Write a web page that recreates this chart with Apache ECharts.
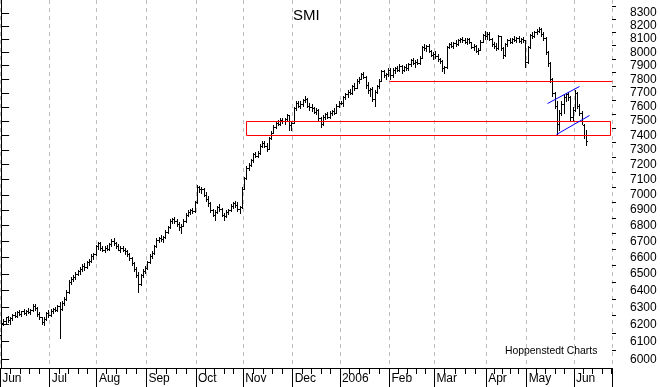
<!DOCTYPE html>
<html><head><meta charset="utf-8">
<script src="https://cdn.jsdelivr.net/npm/echarts@6/dist/echarts.min.js"></script>
<style>html,body{margin:0;padding:0;background:#fff}#c{width:660px;height:387px}</style>
</head><body><div id="c"></div>
<script>
// ---------------- data ----------------
const holidays = ['2005-08-01','2005-12-26','2006-04-14','2006-04-17','2006-05-01','2006-05-25','2006-06-05'];
const firstDay = '2005-06-01', lastDay = '2006-06-26', calendarEnd = '2006-06-30';
const monthTickLabels = ['Jun','Jul','Aug','Sep','Oct','Nov','Dec','2006','Feb','Mar','Apr','May','Jun'];
const yTickValues = [6000,6100,6200,6300,6400,6500,6600,6700,6800,6900,7000,7100,7200,7300,7400,7500,7600,7700,7800,7900,8000,8100,8200,8300];
const yMinorValues = [6050,6150,6250,6350,6450,6550,6650,6750,6850,6950,7050,7150,7250,7350,7450,7550,7650,7750,7850,7950,8050,8150,8250,8350];
const yRange = [5951, 8402];
// OHLC per trading day [open, high, low, close]
const jun05 = [[6140,6215,6130,6205],[6205,6230,6195,6220],[6220,6245,6205,6240],[6240,6250,6215,6225],[6225,6245,6200,6235],[6235,6260,6225,6255],[6255,6270,6240,6250],[6250,6275,6245,6270],[6270,6285,6255,6260],[6260,6280,6250,6275],[6275,6290,6260,6265],[6265,6285,6255,6280],[6280,6295,6265,6270],[6270,6290,6260,6285],[6285,6320,6280,6310],[6310,6320,6285,6295],[6295,6300,6250,6260],[6260,6270,6230,6240],[6240,6245,6200,6215],[6215,6240,6195,6230],[6230,6270,6225,6265],[6265,6285,6245,6255]];
const jul05 = [[6255,6290,6250,6280],[6280,6295,6265,6290],[6290,6300,6275,6285],[6285,6315,6280,6305],[6305,6330,6122,6290],[6290,6335,6285,6325],[6325,6360,6315,6350],[6350,6400,6345,6390],[6390,6460,6385,6450],[6450,6480,6440,6470],[6470,6490,6455,6480],[6480,6510,6470,6500],[6500,6525,6490,6515],[6515,6540,6500,6530],[6530,6560,6520,6550],[6550,6565,6525,6540],[6540,6580,6535,6570],[6570,6590,6555,6580],[6580,6620,6575,6610],[6610,6630,6590,6620],[6620,6680,6615,6670]];
const aug05 = [[6670,6700,6655,6690],[6690,6695,6650,6660],[6660,6675,6640,6650],[6650,6670,6635,6660],[6660,6680,6645,6655],[6655,6690,6650,6685],[6685,6715,6675,6705],[6705,6720,6680,6690],[6690,6700,6660,6670],[6670,6685,6645,6650],[6650,6670,6635,6660],[6660,6675,6640,6645],[6645,6660,6625,6640],[6640,6650,6610,6620],[6620,6630,6585,6595],[6595,6605,6555,6565],[6565,6575,6520,6530],[6530,6540,6480,6495],[6495,6510,6390,6440],[6440,6500,6430,6490],[6490,6530,6480,6520],[6520,6545,6505,6535]];
const sep05 = [[6535,6580,6530,6570],[6570,6620,6565,6610],[6610,6640,6600,6630],[6630,6680,6625,6670],[6670,6720,6665,6710],[6710,6730,6695,6720],[6720,6740,6705,6715],[6715,6735,6700,6730],[6730,6770,6725,6760],[6760,6800,6755,6790],[6790,6840,6785,6830],[6830,6850,6815,6840],[6840,6855,6820,6830],[6830,6840,6800,6810],[6810,6825,6775,6790],[6790,6810,6755,6800],[6800,6840,6795,6830],[6830,6880,6825,6870],[6870,6900,6860,6890],[6890,6910,6875,6900],[6900,6915,6880,6895],[6895,6960,6890,6950]];
const oct05 = [[6950,7065,6945,7050],[7050,7060,7020,7035],[7035,7050,7010,7040],[7040,7045,6990,7000],[7000,7015,6960,6975],[6975,6990,6930,6945],[6945,6955,6890,6900],[6900,6910,6860,6870],[6870,6900,6835,6890],[6890,6930,6880,6920],[6920,6940,6895,6905],[6905,6915,6860,6870],[6870,6880,6835,6860],[6860,6900,6855,6890],[6890,6910,6875,6900],[6900,6940,6895,6930],[6930,6955,6915,6945],[6945,6960,6920,6935],[6935,6950,6895,6910],[6910,6930,6880,6920],[6920,7050,6915,7040]];
const nov05 = [[7040,7120,7035,7110],[7110,7190,7105,7180],[7180,7215,7165,7200],[7200,7240,7190,7230],[7230,7280,7220,7270],[7270,7285,7250,7260],[7260,7290,7250,7280],[7280,7340,7275,7330],[7330,7360,7320,7350],[7350,7365,7320,7330],[7330,7345,7290,7310],[7310,7390,7305,7380],[7380,7430,7375,7420],[7420,7470,7415,7460],[7460,7500,7450,7490],[7490,7510,7470,7480],[7480,7520,7475,7510],[7510,7525,7490,7500],[7500,7520,7480,7515],[7515,7550,7505,7540],[7540,7545,7440,7470],[7470,7500,7435,7490]];
const dec05 = [[7490,7600,7485,7590],[7590,7640,7580,7630],[7630,7645,7600,7610],[7610,7640,7595,7625],[7625,7660,7610,7650],[7650,7680,7635,7660],[7660,7665,7600,7610],[7610,7630,7580,7600],[7600,7620,7570,7590],[7590,7600,7555,7565],[7565,7590,7550,7580],[7580,7585,7510,7520],[7520,7530,7460,7480],[7480,7540,7475,7530],[7530,7560,7515,7550],[7550,7565,7520,7530],[7530,7570,7520,7560],[7560,7580,7540,7570],[7570,7590,7550,7560],[7560,7620,7555,7610],[7610,7640,7600,7630]];
const jan06 = [[7630,7640,7620,7630],[7630,7680,7610,7670],[7670,7700,7655,7690],[7690,7720,7675,7710],[7710,7730,7690,7700],[7700,7760,7695,7750],[7750,7770,7725,7740],[7740,7800,7735,7790],[7790,7815,7770,7805],[7805,7850,7800,7840],[7840,7855,7810,7820],[7820,7825,7740,7760],[7760,7780,7700,7720],[7720,7740,7680,7730],[7730,7745,7640,7660],[7660,7720,7610,7710],[7710,7760,7700,7750],[7750,7800,7740,7790],[7790,7870,7785,7860],[7860,7870,7820,7830],[7830,7850,7800,7840],[7840,7880,7825,7870]];
const feb06 = [[7870,7880,7800,7830],[7830,7880,7820,7870],[7870,7890,7850,7880],[7880,7900,7860,7870],[7870,7910,7860,7900],[7900,7905,7850,7870],[7870,7900,7860,7890],[7890,7910,7870,7880],[7880,7920,7870,7910],[7910,7950,7900,7940],[7940,7960,7910,7920],[7920,7940,7890,7930],[7930,7950,7910,7920],[7920,7970,7915,7960],[7960,8050,7955,8040],[8040,8060,8020,8030],[8030,8055,8010,8050],[8050,8060,8000,8010],[8010,8020,7970,7980],[7980,8000,7950,7990]];
const mar06 = [[7990,8010,7960,7970],[7970,7990,7935,7950],[7950,7960,7920,7935],[7935,7945,7860,7880],[7880,7900,7850,7890],[7890,8050,7885,8040],[8040,8070,8030,8060],[8060,8080,8040,8050],[8050,8075,8035,8070],[8070,8090,8050,8060],[8060,8100,8055,8090],[8090,8110,8075,8100],[8100,8115,8080,8090],[8090,8110,8070,8080],[8080,8105,8065,8100],[8100,8110,8070,8075],[8075,8080,8030,8040],[8040,8060,8020,8050],[8050,8055,8000,8010],[8010,8030,7985,8020],[8020,8090,8015,8080],[8080,8140,8075,8130],[8130,8160,8100,8120]];
const apr06 = [[8120,8150,8100,8140],[8140,8155,8090,8100],[8100,8110,8050,8060],[8060,8080,8030,8050],[8050,8070,8020,8030],[8030,8130,8025,8120],[8120,8125,8020,8030],[8030,8040,7960,7980],[7980,8070,7975,8060],[8060,8100,8050,8090],[8090,8110,8070,8080],[8080,8110,8070,8100],[8100,8120,8085,8095],[8095,8115,8080,8110],[8110,8120,8075,8085],[8085,8110,8070,8100],[8100,8115,8075,8090],[8090,8095,7890,7930]];
const may06 = [[7930,8050,7920,8040],[8040,8140,8035,8130],[8130,8150,8110,8120],[8120,8160,8115,8150],[8150,8175,8140,8160],[8160,8190,8150,8180],[8180,8185,8120,8140],[8140,8150,8090,8110],[8110,8115,7990,8000],[8000,8010,7900,7920],[7920,7925,7780,7800],[7800,7810,7680,7700],[7700,7710,7590,7610],[7610,7640,7410,7480],[7480,7580,7440,7560],[7560,7640,7540,7620],[7620,7690,7560,7670],[7670,7700,7640,7690],[7690,7710,7650,7670],[7670,7680,7500,7530],[7530,7600,7510,7580]];
const jun06 = [[7580,7725,7570,7700],[7700,7710,7590,7610],[7610,7620,7540,7560],[7560,7570,7480,7500],[7470,7480,7380,7400],[7400,7440,7335,7360]];
// annotations: [position in trading-day units, index value]
const supportBox = [[108.8,7500],[270.8,7500],[270.8,7400],[108.8,7400],[108.8,7500]];
const resistanceLine = [[172.5,7785],[271.5,7785]];
const channelUpper = [[242.7,7627],[257.0,7751]];
const channelLower = [[246.6,7411],[261.4,7544]];

// ---------------- build ----------------
function tradingDays(from, to) {
  const out = [];
  const d = new Date(from + 'T00:00:00Z'), end = new Date(to + 'T00:00:00Z');
  while (d <= end) {
    const wd = d.getUTCDay(), s = d.toISOString().slice(0, 10);
    if (wd !== 0 && wd !== 6 && holidays.indexOf(s) < 0) out.push(s);
    d.setUTCDate(d.getUTCDate() + 1);
  }
  return out;
}
const dates = tradingDays(firstDay, lastDay);
const calDays = tradingDays(firstDay, calendarEnd);
const monthStart = {};
const starts = [];
calDays.forEach((s, i) => {
  if (i === 0 || s.slice(0, 7) !== calDays[i - 1].slice(0, 7)) { starts.push(i); }
});
starts.forEach((s, m) => { if (s < dates.length) monthStart[s] = monthTickLabels[m]; });
const isMonthStart = (i) => monthStart[i] !== undefined;
// minor ticks: each month split in five equal parts
const minorTicks = [];
starts.forEach((s, m) => {
  const e = m + 1 < starts.length ? starts[m + 1] : calDays.length;
  for (let q = 1; q < 5; q++) minorTicks.push(s - 0.5 + (e - s) * q / 5);
});
const bars = [].concat(jun05, jul05, aug05, sep05, oct05, nov05, dec05, jan06, feb06, mar06, apr06, may06, jun06);
const ohlcData = bars.map((b, i) => [i, Math.log(b[0]), Math.log(b[1]), Math.log(b[2]), Math.log(b[3])]);
const toLog = (arr) => arr.map(p => [p[0], Math.log(p[1])]);
const FONT = 'Liberation Sans, Arial, sans-serif';

const chart = echarts.init(document.getElementById('c'), null, {renderer: 'canvas'});
const lnMin = Math.log(yRange[0]), lnMax = Math.log(yRange[1]);
// annotation polyline drawn through the axes' scales, snapped to the pixel grid
const annot = (pts, color) => {
  const logPts = toLog(pts);
  return {
    type: 'custom', xAxisIndex: 1, yAxisIndex: 0, data: logPts, silent: true, z: 5,
    encode: {x: 0, y: 1},
    renderItem: function (params, api) {
      if (params.dataIndex !== 0) return null;
      const points = logPts.map(p => { const q = api.coord(p); return [Math.round(q[0]) + 0.5, Math.round(q[1]) + 0.5]; });
      return {type: 'polyline', shape: {points: points}, style: {stroke: color, lineWidth: 1, fill: null}};
    }
  };
};
chart.setOption({
  animation: false,
  backgroundColor: '#fff',
  title: {text: 'SMI', left: 293, top: 8, padding: 0, textStyle: {fontSize: 15, fontWeight: 'normal', color: '#000', fontFamily: FONT}},
  graphic: [{type: 'text', left: 505, top: 346, style: {text: 'Hoppenstedt Charts', font: '10.4px ' + FONT, fill: '#000'}}],
  grid: {left: 0, right: 48, top: 0, bottom: 19, outerBoundsMode: 'none', containLabel: false},
  xAxis: [
    {type: 'category', data: dates, boundaryGap: true,
     axisLine: {show: true, lineStyle: {color: '#000', width: 1}},
     axisTick: {show: true, interval: (i) => isMonthStart(i), length: 19, lineStyle: {color: '#000'}},
     axisLabel: {show: true, interval: (i) => isMonthStart(i), formatter: (v, i) => monthStart[i] || '',
       align: 'left', margin: 5, padding: [0, 0, 0, 1], color: '#000', fontSize: 12, fontFamily: FONT},
     splitLine: {show: true, interval: (i) => isMonthStart(i), lineStyle: {color: '#bdbdbd', width: 1, type: [4, 4]}}},
    {type: 'value', min: -0.5, max: dates.length - 0.5, position: 'bottom',
     axisLine: {show: false}, axisLabel: {show: false}, splitLine: {show: false},
     axisTick: {show: true, customValues: minorTicks, length: 6, lineStyle: {color: '#000'}}}
  ],
  yAxis: [
    {type: 'value', position: 'right', min: lnMin, max: lnMax,
     axisLine: {show: true, lineStyle: {color: '#000', width: 1}},
     axisTick: {show: true, customValues: yTickValues.map(Math.log), length: 8, lineStyle: {color: '#000'}},
     axisLabel: {show: true, customValues: yTickValues.map(Math.log), formatter: (v) => String(Math.round(Math.exp(v) / 100) * 100),
       margin: 18, color: '#000', fontSize: 12, fontFamily: FONT},
     splitLine: {show: false}},
    {type: 'value', position: 'right', min: lnMin, max: lnMax,
     axisLine: {show: false}, axisLabel: {show: false}, splitLine: {show: false},
     axisTick: {show: true, customValues: yMinorValues.map(Math.log), length: 4, lineStyle: {color: '#000'}}}
  ],
  series: [
    {type: 'custom', xAxisIndex: 0, yAxisIndex: 0, data: ohlcData, silent: true, z: 4,
     encode: {x: 0, y: [1, 2, 3, 4]},
     renderItem: function (params, api) {
       const i = api.value(0);
       const pO = api.coord([i, api.value(1)]), pH = api.coord([i, api.value(2)]);
       const pL = api.coord([i, api.value(3)]), pC = api.coord([i, api.value(4)]);
       const c = Math.round(pO[0]);
       const yh = Math.round(pH[1]), yl = Math.round(pL[1]);
       const yo = Math.round(pO[1]) + 0.5, yc = Math.round(pC[1]) + 0.5;
       const st = {stroke: '#000', lineWidth: 1};
       return {type: 'group', children: [
         {type: 'line', shape: {x1: c + 0.5, y1: yh, x2: c + 0.5, y2: yl + 1}, style: st},
         {type: 'line', shape: {x1: c - 1, y1: yo, x2: c, y2: yo}, style: st},
         {type: 'line', shape: {x1: c + 1, y1: yc, x2: c + 2, y2: yc}, style: st}
       ]};
     }},
    annot(supportBox, '#ff0000'),
    annot(resistanceLine, '#ff0000'),
    annot(channelUpper, '#0000ff'),
    annot(channelLower, '#0000ff')
  ]
});
</script></body></html>
